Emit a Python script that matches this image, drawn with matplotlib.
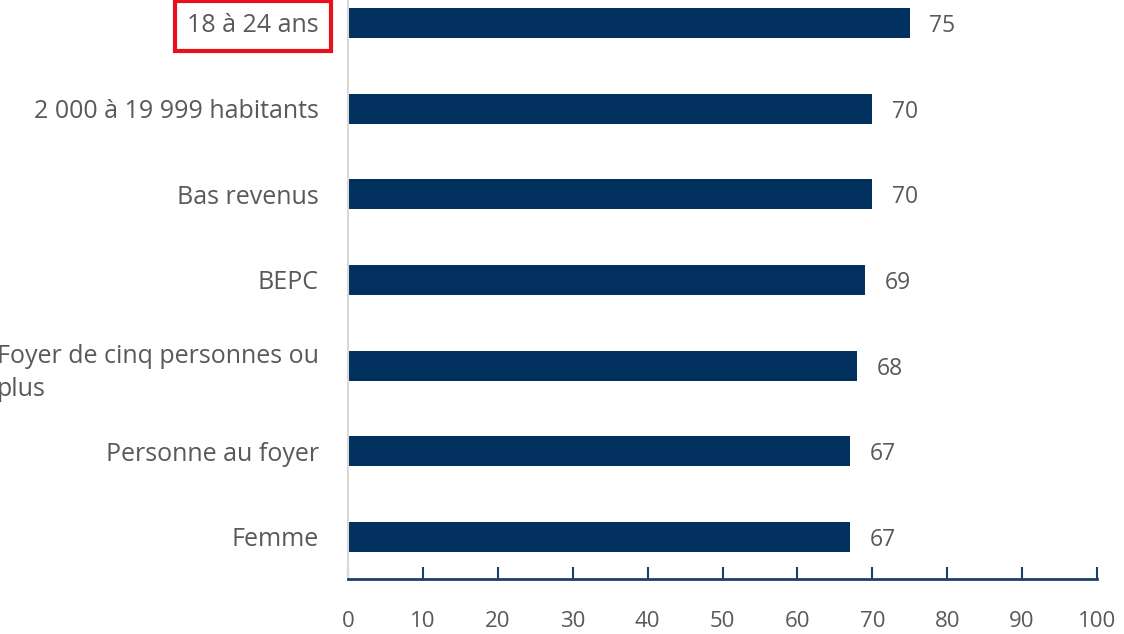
import matplotlib.pyplot as plt
import numpy as np

plt.rcParams['font.family'] = ['Open Sans', 'DejaVu Sans']

# categories listed bottom -> top
categories = ['Femme', 'Personne au foyer', 'Foyer de cinq personnes ou\nplus',
              'BEPC', 'Bas revenus', '2 000 à 19 999 habitants', '18 à 24 ans']
values = [67, 67, 68, 69, 70, 70, 75]
xticks = [0, 10, 20, 30, 40, 50, 60, 70, 80, 90, 100]

bar_color = '#03315f'
text_color = '#595959'

fig = plt.figure(figsize=(11.24, 6.34), dpi=100)
ax = fig.add_axes([0.3096, 0.0868, 0.6664, 0.9447])

y = np.arange(len(categories))
ax.barh(y, values, height=0.35, color=bar_color)

for yi, v in zip(y, values):
    ax.text(v + 2.6, yi, str(v), va='center_baseline', ha='left', fontsize=16.5, color=text_color)

ax.set_xlim(0, 100)
ax.set_ylim(-0.49, 6.5)
ax.set_xticks(xticks)
ax.set_xticklabels([str(t) for t in xticks], fontsize=16, color=text_color)
ax.set_yticks(y)
ax.set_yticklabels(categories, fontsize=18, color=text_color)
for lab in ax.get_yticklabels():
    lab.set_multialignment('left')
    lab.set_linespacing(1.45)

ax.tick_params(axis='y', length=0, pad=21)
ax.tick_params(axis='x', direction='in', length=9, width=1.5, color='#1f3f6b', pad=23)

for s in ['top', 'right']:
    ax.spines[s].set_visible(False)
ax.spines['left'].set_color('#d9d9d9')
ax.spines['left'].set_linewidth(1.5)
ax.spines['bottom'].set_color('#1f3f6b')
ax.spines['bottom'].set_linewidth(2)

# red highlight box around the top label
top_label = ax.get_yticklabels()[-1]
top_label.set_bbox(dict(boxstyle='square,pad=0.5', facecolor='none', edgecolor='#e8101a', linewidth=3))

fig.savefig('out.png', dpi=100)
